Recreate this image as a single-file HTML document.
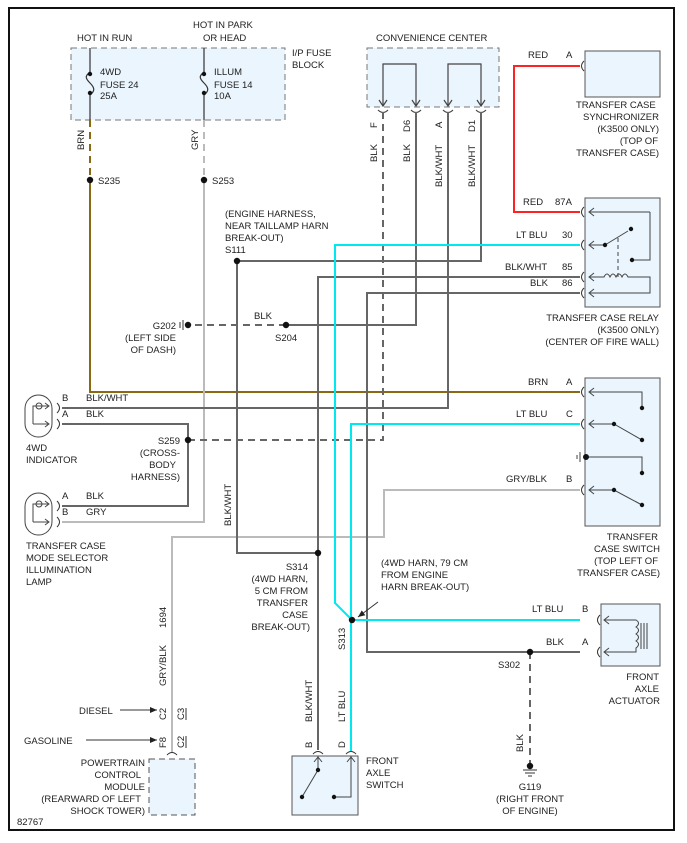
<!DOCTYPE html>
<html><head><meta charset="utf-8"><style>
html,body{margin:0;padding:0;background:#fff}
svg{display:block}
text{font-family:"Liberation Sans",sans-serif;font-size:9.5px;fill:#222}
</style></head><body>
<svg width="687" height="843" viewBox="0 0 687 843" xmlns="http://www.w3.org/2000/svg">
<defs>
<marker id="af" markerWidth="8" markerHeight="8" refX="7" refY="4" orient="auto" markerUnits="userSpaceOnUse"><path d="M0,1 L7,4 L0,7 Z" fill="#222"/></marker>
</defs>
<rect x="9" y="8" width="665" height="822" fill="#fff" stroke="#111" stroke-width="2"/>

<rect x="71" y="48" width="214" height="72" fill="#eaf5fd" stroke="#777" stroke-dasharray="6,4"/>
<rect x="367" y="48" width="132" height="59" fill="#eaf5fd" stroke="#777" stroke-dasharray="6,4"/>
<rect x="585" y="51" width="75" height="46" fill="#eaf5fd" stroke="#555"/>
<rect x="585" y="198" width="75" height="109" fill="#eaf5fd" stroke="#555"/>
<rect x="585" y="378" width="75" height="148" fill="#eaf5fd" stroke="#555"/>
<rect x="601" y="604" width="59" height="62" fill="#eaf5fd" stroke="#555"/>
<rect x="292" y="756" width="66" height="59" fill="#eaf5fd" stroke="#555"/>
<rect x="149" y="759" width="46" height="56" fill="#eaf5fd" stroke="#555" stroke-dasharray="6,4"/>

<g stroke="#333" stroke-width="1.2" fill="none">
<path d="M90,48 V72 M90,95 V120 M90,72 c-5,4 -5,6 0,11 c5,5 5,8 0,12"/>
<path d="M204,48 V72 M204,95 V120 M204,72 c-5,4 -5,6 0,11 c5,5 5,8 0,12"/>
</g>
<g fill="#111"><circle cx="90" cy="74" r="2.2"/><circle cx="90" cy="93" r="2.2"/><circle cx="204" cy="74" r="2.2"/><circle cx="204" cy="93" r="2.2"/></g>

<g stroke="#444" stroke-width="1.2" fill="none">
<path d="M383,105 V64 H416 V105 M448,105 V64 H481 V105"/>
<path d="M379,100 L383,106 L387,100 M412,100 L416,106 L420,100 M444,100 L448,106 L452,100 M477,100 L481,106 L485,100"/>
<path d="M378,110 q5,5 10,0 M411,110 q5,5 10,0 M443,110 q5,5 10,0 M476,110 q5,5 10,0"/>
</g>

<path d="M90,120 V180" stroke="#8b6914" stroke-width="2" stroke-dasharray="7,5" fill="none"/>
<path d="M90,180 V392 H580" stroke="#8b6914" stroke-width="2" fill="none"/>
<path d="M204,120 V180" stroke="#bbb" stroke-width="2" stroke-dasharray="7,5" fill="none"/>
<path d="M204,180 V522 H62" stroke="#bbb" stroke-width="2" fill="none"/>
<path d="M580,490 H384 V537 H172 V752" stroke="#bbb" stroke-width="2" fill="none"/>

<g stroke="#666" stroke-width="2" fill="none">
<path d="M416,112 V325 H286"/>
<path d="M448,112 V408 H62"/>
<path d="M481,112 V261 H237 V553 H318"/>
<path d="M580,277 H318 V750"/>
<path d="M580,293 H367 V652 H580"/>
<path d="M62,424 H188 V506 H62"/>
</g>
<g stroke="#666" stroke-width="2" fill="none" stroke-dasharray="7,5">
<path d="M383,112 V440 H188"/>
<path d="M286,325 H188"/>
<path d="M530,652 V766"/>
</g>
<path d="M580,66 H514 V212 H580" stroke="#f22" stroke-width="2" fill="none"/>
<g stroke="#00e8f0" stroke-width="2" fill="none">
<path d="M580,245 H335 V603 L352,620"/>
<path d="M580,424 H351 V752"/>
<path d="M352,620 H580"/>
</g>

<g fill="#111">
<circle cx="90" cy="180" r="3.2"/><circle cx="204" cy="180" r="3.2"/>
<circle cx="237" cy="261" r="3.2"/><circle cx="286" cy="325" r="3.2"/>
<circle cx="188" cy="325" r="3.2"/><circle cx="188" cy="440" r="3.2"/>
<circle cx="318" cy="553" r="3.2"/><circle cx="352" cy="620" r="3.2"/>
<circle cx="530" cy="652" r="3.2"/><circle cx="530" cy="766" r="3.2"/>
</g>
<path d="M183,320 V330 M180,322 V328" stroke="#333"/>
<path d="M523,770 H537 M525,773 H535 M528,776 H532" stroke="#333"/>

<g stroke="#333" stroke-width="1" fill="none">
<path d="M584,61 q-5,5 0,10 M584,207 q-5,5 0,10 M584,240 q-5,5 0,10 M584,272 q-5,5 0,10 M584,288 q-5,5 0,10 M584,387 q-5,5 0,10 M584,419 q-5,5 0,10 M584,485 q-5,5 0,10 M600,615 q-5,5 0,10 M600,647 q-5,5 0,10"/>
<path d="M57,403 q5,5 0,10 M57,419 q5,5 0,10 M57,501 q5,5 0,10 M57,517 q5,5 0,10"/>
<path d="M313,754 q5,-5 10,0 M346,754 q5,-5 10,0 M167,755 q5,-5 10,0"/>
</g>

<g stroke="#444" stroke-width="1" fill="none">
<path d="M650,212 H590 M594,208 L589,212 L594,216"/>
<path d="M650,212 V260 H632"/>
<path d="M605,245 H590 M594,241 L589,245 L594,249"/>
<path d="M605,245 L628,231"/>
<path d="M618,238 V277" stroke-dasharray="4,3"/>
<path d="M590,277 H604 q3,-6 6,0 q3,-6 6,0 q3,-6 6,0 q3,-6 6,0 H650 V293 H590 M594,273 L589,277 L594,281 M594,289 L589,293 L594,297"/>
</g>
<g fill="#111"><circle cx="605" cy="245" r="2.2"/><circle cx="631" cy="229" r="2.2"/><circle cx="632" cy="260" r="2.2"/></g>

<g stroke="#444" stroke-width="1" fill="none">
<path d="M590,392 H642 V408 M594,388 L589,392 L594,396"/>
<path d="M590,424 H614 L642,440 M594,420 L589,424 L594,428"/>
<path d="M585,457 H642 V473 M580,452 V462 M577,455 V459"/>
<path d="M590,490 H614 L642,505 M594,486 L589,490 L594,494"/>
</g>
<g fill="#111"><circle cx="642" cy="408" r="2.2"/><circle cx="614" cy="424" r="2.2"/><circle cx="642" cy="440" r="2.2"/><circle cx="586" cy="457" r="3"/><circle cx="642" cy="473" r="2.2"/><circle cx="614" cy="490" r="2.2"/><circle cx="642" cy="505" r="2.2"/></g>

<g stroke="#444" stroke-width="1" fill="none">
<path d="M605,620 H636 q5,3 0,7 q5,3 0,7 q5,3 0,7 q5,3 0,7 V652 H605 M609,616 L604,620 L609,624 M609,648 L604,652 L609,656"/>
<path d="M641,623 V649 M644,623 V649 M647,623 V649"/>
</g>

<g stroke="#444" stroke-width="1" fill="none">
<path d="M318,756 V770 L302,797 M314,762 L318,757 L322,762"/>
<path d="M351,756 V797 H334 M347,762 L351,757 L355,762"/>
</g>
<g fill="#111"><circle cx="318" cy="770" r="2.2"/><circle cx="302" cy="797" r="2.2"/><circle cx="334" cy="797" r="2.2"/></g>

<g stroke="#444" stroke-width="1" fill="none">
<rect x="25" y="395" width="27" height="42" rx="13.5"/>
<path d="M33,424 V406 H48 M45,403 L49,406 L45,409 M33,424 H48 M45,421 L49,424 L45,427"/><circle cx="39" cy="406" r="3"/>
<rect x="25" y="493" width="27" height="42" rx="13.5"/>
<path d="M33,522 V504 H48 M45,501 L49,504 L45,507 M33,522 H48 M45,519 L49,522 L45,525"/><circle cx="39" cy="504" r="3"/>
</g>

<path d="M120,710 H157" stroke="#333" marker-end="url(#af)"/>
<path d="M86,740 H157" stroke="#333" marker-end="url(#af)"/>
<path d="M378,602 L358,617" stroke="#333" marker-end="url(#af)"/>

<text x="77" y="41">HOT IN RUN</text>
<text x="193" y="28">HOT IN PARK</text>
<text x="203" y="41">OR HEAD</text>
<text x="292" y="56">I/P FUSE</text>
<text x="292" y="68">BLOCK</text>
<text x="100" y="75">4WD</text><text x="100" y="88">FUSE 24</text><text x="100" y="99">25A</text>
<text x="214" y="75">ILLUM</text><text x="214" y="88">FUSE 14</text><text x="214" y="99">10A</text>
<text x="98" y="184">S235</text><text x="212" y="184">S253</text>
<text x="225" y="217">(ENGINE HARNESS,</text><text x="225" y="229">NEAR TAILLAMP HARN</text><text x="225" y="241">BREAK-OUT)</text><text x="225" y="253">S111</text>
<text x="376" y="41">CONVENIENCE CENTER</text>
<text x="528" y="58">RED</text><text x="566" y="58">A</text>
<text x="576" y="108">TRANSFER CASE</text><text x="659" y="120" text-anchor="end">SYNCHRONIZER</text><text x="659" y="132" text-anchor="end">(K3500 ONLY)</text><text x="658" y="144" text-anchor="end">(TOP OF</text><text x="659" y="156" text-anchor="end">TRANSFER CASE)</text>
<text x="523" y="205">RED</text><text x="555" y="205">87A</text>
<text x="516" y="238">LT BLU</text><text x="562" y="238">30</text>
<text x="505" y="270">BLK/WHT</text><text x="562" y="270">85</text>
<text x="530" y="286">BLK</text><text x="562" y="286">86</text>
<text x="659" y="321" text-anchor="end">TRANSFER CASE RELAY</text><text x="659" y="333" text-anchor="end">(K3500 ONLY)</text><text x="659" y="345" text-anchor="end">(CENTER OF FIRE WALL)</text>
<text x="254" y="319">BLK</text><text x="275" y="341">S204</text>
<text x="176" y="329" text-anchor="end">G202</text><text x="176" y="341" text-anchor="end">(LEFT SIDE</text><text x="176" y="353" text-anchor="end">OF DASH)</text>
<text x="528" y="385">BRN</text><text x="566" y="385">A</text>
<text x="516" y="417">LT BLU</text><text x="566" y="417">C</text>
<text x="506" y="482">GRY/BLK</text><text x="566" y="482">B</text>
<text x="658" y="540" text-anchor="end">TRANSFER</text><text x="660" y="552" text-anchor="end">CASE SWITCH</text><text x="658" y="564" text-anchor="end">(TOP LEFT OF</text><text x="660" y="576" text-anchor="end">TRANSFER CASE)</text>
<text x="62" y="401">B</text><text x="86" y="401">BLK/WHT</text>
<text x="62" y="417">A</text><text x="86" y="417">BLK</text>
<text x="26" y="451">4WD</text><text x="26" y="463">INDICATOR</text>
<text x="180" y="444" text-anchor="end">S259</text><text x="180" y="456" text-anchor="end">(CROSS-</text><text x="176" y="468" text-anchor="end">BODY</text><text x="180" y="480" text-anchor="end">HARNESS)</text>
<text x="62" y="499">A</text><text x="86" y="499">BLK</text>
<text x="62" y="515">B</text><text x="86" y="515">GRY</text>
<text x="26" y="549">TRANSFER CASE</text><text x="26" y="561">MODE SELECTOR</text><text x="26" y="573">ILLUMINATION</text><text x="26" y="585">LAMP</text>
<text x="308" y="570" text-anchor="end">S314</text><text x="308" y="582" text-anchor="end">(4WD HARN,</text><text x="308" y="594" text-anchor="end">5 CM FROM</text><text x="308" y="606" text-anchor="end">TRANSFER</text><text x="308" y="618" text-anchor="end">CASE</text><text x="310" y="630" text-anchor="end">BREAK-OUT)</text>
<text x="381" y="566">(4WD HARN, 79 CM</text><text x="381" y="578">FROM ENGINE</text><text x="381" y="590">HARN BREAK-OUT)</text>
<text x="532" y="612">LT BLU</text><text x="582" y="612">B</text>
<text x="546" y="645">BLK</text><text x="582" y="645">A</text>
<text x="498" y="668">S302</text>
<text x="659" y="680" text-anchor="end">FRONT</text><text x="659" y="692" text-anchor="end">AXLE</text><text x="660" y="704" text-anchor="end">ACTUATOR</text>
<text x="530" y="790" text-anchor="middle">G119</text><text x="530" y="802" text-anchor="middle">(RIGHT FRONT</text><text x="530" y="814" text-anchor="middle">OF ENGINE)</text>
<text x="366" y="764">FRONT</text><text x="366" y="776">AXLE</text><text x="366" y="788">SWITCH</text>
<text x="79" y="714">DIESEL</text><text x="24" y="744">GASOLINE</text>
<text x="145" y="766" text-anchor="end">POWERTRAIN</text><text x="141" y="778" text-anchor="end">CONTROL</text><text x="145" y="790" text-anchor="end">MODULE</text><text x="141" y="802" text-anchor="end">(REARWARD OF LEFT</text><text x="145" y="814" text-anchor="end">SHOCK TOWER)</text>
<text x="17" y="825">82767</text>
<g>
<text transform="translate(84,150) rotate(-90)">BRN</text>
<text transform="translate(198,150) rotate(-90)">GRY</text>
<text transform="translate(377,128) rotate(-90)">F</text>
<text transform="translate(410,132) rotate(-90)">D6</text>
<text transform="translate(442,128) rotate(-90)">A</text>
<text transform="translate(475,132) rotate(-90)">D1</text>
<text transform="translate(377,162) rotate(-90)">BLK</text>
<text transform="translate(410,162) rotate(-90)">BLK</text>
<text transform="translate(442,187) rotate(-90)">BLK/WHT</text>
<text transform="translate(475,187) rotate(-90)">BLK/WHT</text>
<text transform="translate(231,526) rotate(-90)">BLK/WHT</text>
<text transform="translate(166,628) rotate(-90)">1694</text>
<text transform="translate(166,686) rotate(-90)">GRY/BLK</text>
<text transform="translate(166,720) rotate(-90)">C2</text>
<text transform="translate(166,748) rotate(-90)">F8</text>
<text transform="translate(184,720) rotate(-90)">C3</text>
<text transform="translate(184,748) rotate(-90)">C2</text>
<text transform="translate(312,722) rotate(-90)">BLK/WHT</text>
<text transform="translate(345,650) rotate(-90)">S313</text>
<text transform="translate(345,722) rotate(-90)">LT BLU</text>
<text transform="translate(312,748) rotate(-90)">B</text>
<text transform="translate(345,748) rotate(-90)">D</text>
<text transform="translate(523,752) rotate(-90)">BLK</text>
</g>
<path d="M186,708 V720 M186,736 V748" stroke="#333"/>
</svg>
</body></html>
